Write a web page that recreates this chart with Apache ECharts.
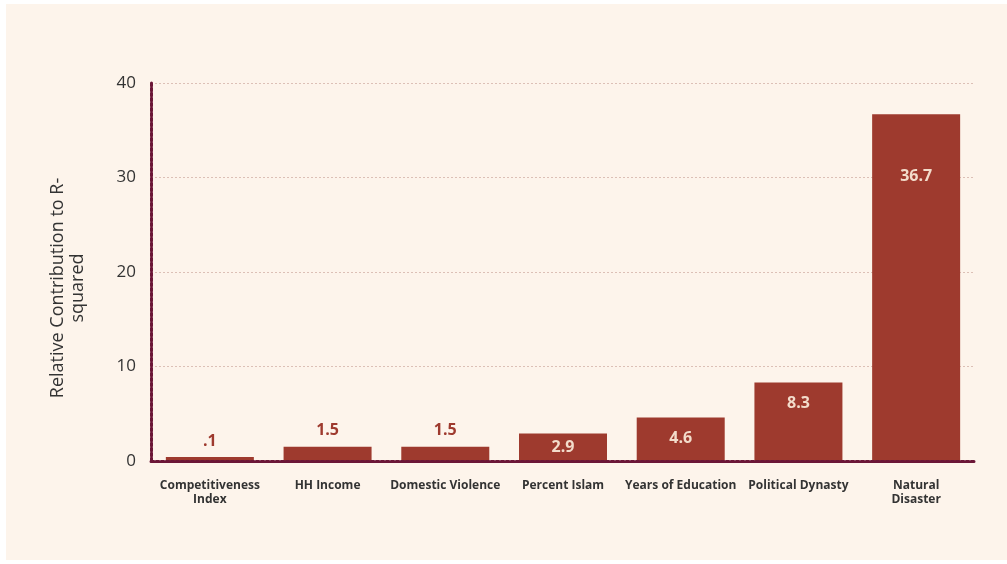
<!DOCTYPE html>
<html>
<head>
<meta charset="utf-8">
<script src="https://cdn.jsdelivr.net/npm/echarts@6/dist/echarts.min.js"></script>
<style>
  html, body { margin: 0; padding: 0; background: #ffffff; }
  #panel { position: absolute; left: 6px; top: 4px; width: 1001px; height: 556px; background: #fdf4eb; }
  #chart { position: absolute; left: -6px; top: -4px; width: 1007px; height: 564px; }
</style>
</head>
<body>
<div id="panel"><div id="chart"></div></div>
<script>
const categories = ['Competitiveness\nIndex', 'HH Income', 'Domestic Violence', 'Percent Islam',
  'Years of Education', 'Political Dynasty', 'Natural\nDisaster'];
const values = [0.1, 1.5, 1.5, 2.9, 4.6, 8.3, 36.7];
const yTicks = [0, 10, 20, 30, 40];

const barColor = '#9e3a2e';
const axisColor = '#6b1637';

// small bars get the label above, big ones inside
function labelFor(v) {
  if (v < 2) return { position: 'top', distance: 8, color: barColor };
  if (v < 4) return { position: 'inside', color: '#f3dccb' };
  if (v > 30) return { position: 'insideTop', distance: 54, color: '#f3dccb' };
  return { position: 'insideTop', distance: 13, color: '#f3dccb' };
}

const seriesData = values.map(v => ({ value: v, label: labelFor(v) }));

const chart = echarts.init(document.getElementById('chart'));
chart.setOption({
  backgroundColor: 'transparent',
  textStyle: { fontFamily: '"Open Sans", sans-serif' },
  grid: { left: 151, right: 32, top: 83, bottom: 103 },
  xAxis: {
    type: 'category',
    data: categories,
    z: 5,
    axisLine: { lineStyle: { color: axisColor, width: 3, type: [3, 2] } },
    axisTick: { show: false },
    axisLabel: { color: '#333', fontWeight: 'bold', fontSize: 12, lineHeight: 14, margin: 18, interval: 0 }
  },
  yAxis: {
    type: 'value',
    min: yTicks[0],
    max: yTicks[yTicks.length - 1],
    interval: 10,
    name: 'Relative Contribution to R-\nsquared',
    nameLocation: 'middle',
    nameRotate: 90,
    nameGap: 63,
    nameTextStyle: { color: '#333', fontSize: 18, lineHeight: 20, padding: [0, 32, 0, 0] },
    axisLine: { show: true, lineStyle: { color: axisColor, width: 3, type: [3, 2] } },
    axisTick: { show: false },
    axisLabel: { color: '#333', fontSize: 17, margin: 15 },
    splitLine: { lineStyle: { color: '#dcc0b6', width: 1, type: [2, 2] } }
  },
  series: [{
    type: 'bar',
    data: seriesData,
    barWidth: 88,
    barMinHeight: 4,
    itemStyle: { color: barColor },
    label: {
      show: true,
      fontSize: 16,
      fontWeight: 'bold',
      formatter: p => String(p.value).replace(/^0\./, '.')
    }
  }]
});
</script>
</body>
</html>
